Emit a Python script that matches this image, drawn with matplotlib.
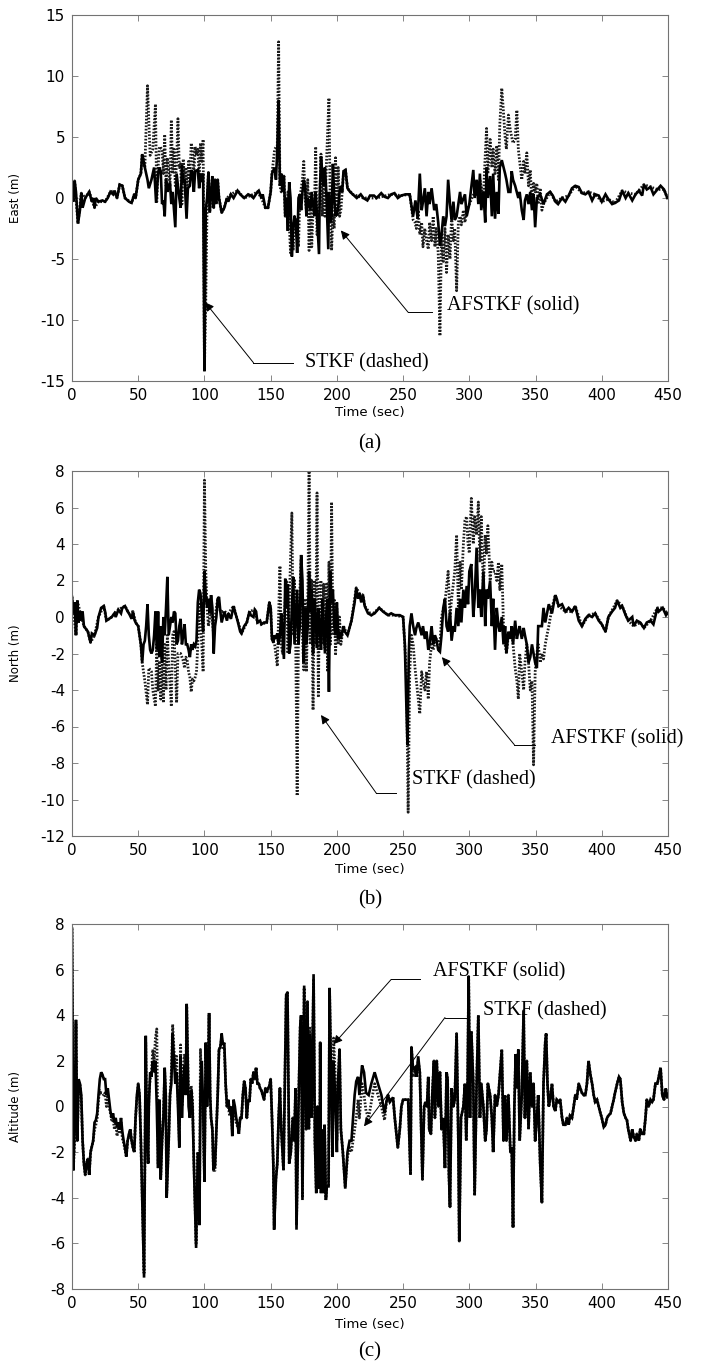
import numpy as np
import matplotlib
matplotlib.use("Agg")
import matplotlib.pyplot as plt

plt.rcParams['axes.unicode_minus'] = False
plt.rcParams['font.family'] = ['DejaVu Sans']

## data: (time [s], error [m]) vertices
east_afstkf = [(0,0.3),(1,-0.3),(2,1.4),(3,0.5),(4.5,-2.1),(6,-1.0),(7,0.4),(8,-0.8),(10,0.0),(13,0.5),(15,-0.3),(16,0.0),(17,-0.8),(18,0.0),(20,-0.3),(23,-0.2),(25,-0.3),(27,0.0),(29,0.5),(31,0.3),(32,0.6),(34,0.0),(36,1.1),(38,1.0),(40,0.0),(43,-0.3),(45,-0.4),(47,0.3),(48,0.0),(50,1.5),(52,2.0),(53,3.6),(55,2.5),(57,1.5),(58,0.8),(60,1.5),(62,2.5),(63.5,-0.4),(65,2.0),(66,2.5),(67,2.2),(68,-0.5),(69,-0.2),(70,-1.5),(71,1.5),(72,0.5),(73,1.0),(74,1.2),(75,-0.5),(76,0.5),(78,-2.4),(79,2.0),(81,0.0),(82,-0.8),(83,2.7),(84,1.3),(85,1.5),(86.5,-1.7),(87.5,0.8),(89,1.0),(90,2.3),(91,2.0),(92,0.5),(93,2.2),(95,2.3),(96,0.8),(97,2.0),(98,1.3),(99,2.0),(100,-14.2),(101,-1.0),(102,0.0),(103,2.1),(104,-1.2),(106,1.8),(107,-0.8),(108,1.5),(109,-0.5),(110,1.5),(111,0.0),(113,-1.2),(115,-0.8),(117,0.0),(118,-0.3),(120,0.3),(122,0.0),(125,0.6),(127,0.3),(130,0.0),(133,0.3),(135,0.2),(137,0.0),(140,0.5),(141,0.6),(143,0.0),(144,0.3),(146,-0.8),(148,-0.8),(150,0.5),(151,2.0),(153,2.5),(154,1.5),(155,4.0),(156,8.0),(157,1.0),(158,2.0),(159,0.5),(160,1.8),(161,-1.5),(162,0.0),(163,-2.7),(164,1.3),(165,0.0),(166,-4.8),(167,-2.5),(168,-1.5),(169,-2.0),(170,-4.5),(171,0.0),(172,0.3),(173,-1.0),(174,0.5),(175,1.5),(176,1.0),(177,-1.5),(178,0.0),(179,-0.5),(180,-1.0),(181,0.5),(182,-0.5),(183,-1.5),(184,0.5),(186.5,-4.6),(187,0.0),(188,3.4),(189,2.0),(190,1.0),(191,2.5),(192,0.5),(193.5,-4.2),(194,0.5),(195,-2.0),(196,-1.5),(197,2.8),(198,0.0),(199,-1.5),(200,-1.3),(201,-0.8),(202,0.5),(203,1.0),(204,0.5),(205,2.2),(206.5,2.3),(208,0.8),(210,0.5),(212,0.3),(215,0.0),(218,0.3),(220,0.0),(223,-0.2),(225,0.2),(228,0.2),(230,0.0),(233.5,0.4),(236,0.1),(238.5,0.0),(241,0.3),(243.5,0.4),(246,0.0),(248.5,0.2),(252,0.3),(255,0.3),(257.5,-1.5),(259.3,-0.2),(261,-1.7),(262.6,2.0),(264,-1.0),(265,-0.3),(266.4,0.8),(267.7,-1.5),(269,0.5),(270,-0.5),(271.5,0.8),(273.5,-1.0),(275,-0.5),(276.5,-2.0),(277.8,-3.9),(279,-3.0),(280.3,-1.5),(281.6,-2.3),(282.8,-1.5),(284,1.5),(285.4,-0.5),(286.6,-1.8),(288,-0.3),(289,-1.8),(290.4,-1.5),(291.7,-0.5),(293,0.5),(294,-0.5),(296.7,0.3),(298,-1.5),(300,-0.5),(303,2.3),(304,0.0),(305.5,1.5),(306.8,-0.5),(308,2.0),(309,-1.0),(310.6,0.5),(312,-2.0),(313,2.5),(314,0.0),(315.7,1.8),(317,-1.5),(318,2.0),(319.4,-1.7),(320.7,0.5),(322,-1.3),(323,2.5),(324.5,3.1),(327,2.0),(328,1.5),(329.5,0.5),(331,0.5),(332,2.2),(333,1.5),(334.6,1.0),(337,0.0),(338,0.5),(339.6,-1.0),(341,-1.8),(342,-0.2),(343.4,0.3),(344.7,-0.5),(346,0.5),(347.3,-1.0),(348.5,0.3),(349.7,-2.4),(351,0.0),(353.5,0.3),(356,-0.5),(358.6,0.3),(361,0.5),(363,0.2),(365,-0.3),(367,-0.5),(370,0.0),(372.5,-0.3),(375,0.2),(377.5,0.8),(380,1.0),(382.6,0.9),(385,0.4),(387.6,0.3),(390,0.5),(392.7,-0.2),(395,0.3),(397.7,0.2),(400,-0.3),(402.8,0.3),(405,-0.1),(407.8,-0.5),(410,-0.4),(413,-0.2),(415.4,0.6),(418,0.0),(420,0.4),(423,-0.2),(425.5,0.3),(428,0.6),(430.5,0.2),(431.8,1.1),(434,0.7),(436.8,0.9),(439,0.3),(442,0.7),(444.4,1.0),(447,0.7),(449.5,0.0)]

east_stkf = [(0,0.3),(2,1.4),(4.5,-2.1),(7,0.4),(10,0.0),(13,0.5),(17,-0.8),(20,-0.3),(25,-0.3),(29,0.5),(32,0.6),(34,0.0),(36,1.1),(38,1.0),(40,0.0),(45,-0.4),(47,0.3),(48,0.0),(50,1.5),(52,2.0),(53,3.6),(55,2.5),(57,9.2),(59,3.5),(61,4.0),(63,7.7),(64,-0.3),(65,2.5),(66,4.2),(68,4.0),(69,2.0),(70,5.2),(71,1.0),(72,3.3),(74,1.0),(75,6.4),(76,2.0),(77,4.0),(78,1.0),(79,3.0),(80,6.5),(81,2.5),(82,2.8),(83,-0.5),(84,3.2),(85,1.5),(86,2.5),(87,0.5),(88,3.0),(89,1.5),(90,4.5),(91,4.0),(92,2.0),(93,4.2),(94,3.5),(95,4.0),(96,1.5),(97,4.5),(98,3.0),(99,4.8),(100,-14.0),(101,-8.5),(102,-0.5),(103,2.1),(104,-1.2),(106,1.8),(107,-0.8),(108,1.5),(109,-0.5),(110,1.5),(111,0.0),(113,-1.2),(115,-0.8),(117,0.0),(120,0.3),(125,0.6),(130,0.0),(135,0.2),(140,0.5),(143,0.0),(146,-0.8),(148,-0.8),(150,0.5),(151,2.0),(153,4.0),(155,4.3),(156,12.8),(157,1.0),(158,0.5),(160,1.8),(161,-1.5),(162,-1.5),(163,0.5),(165,-4.5),(166,-2.0),(167,-4.3),(168,-1.5),(170,-2.0),(171,-4.0),(172,0.0),(174,1.5),(175,3.0),(176,0.0),(177,-1.0),(178,1.5),(179,-4.3),(180,0.5),(181,-4.0),(182,-1.0),(183,-1.0),(184,4.2),(185,-3.0),(186,-1.0),(187,-0.5),(188,3.6),(189,-1.5),(190,2.5),(191,-1.5),(192,2.5),(194,8.2),(195,-1.0),(196,-4.3),(197,-1.3),(198,-2.5),(199,3.3),(200,-1.5),(201,2.5),(202,-1.5),(203,-1.0),(205,2.0),(206.5,2.3),(208,0.8),(212,0.3),(220,0.0),(230,0.0),(241,0.3),(248.5,0.2),(255,0.3),(257.6,-1.8),(259,-2.0),(260,-2.5),(261.4,-1.0),(262.6,-3.0),(264,-2.0),(265,-4.0),(266.4,-2.5),(267.7,-3.5),(269,-4.2),(270,-2.0),(271.5,-3.5),(272.7,-1.5),(274,-4.0),(275,-2.5),(276.5,-4.5),(277.8,-11.3),(279,-3.0),(280.3,-5.2),(281.6,-2.5),(282.8,-6.1),(284,-3.0),(285.4,-5.0),(286.6,-1.5),(288,-3.5),(289,-2.5),(290.4,-7.6),(291.7,-2.0),(293,-1.5),(294,-2.2),(295.5,-1.0),(296.7,-2.0),(298,-1.0),(300,-0.5),(304,0.5),(306.8,0.0),(308,1.5),(310.6,0.0),(312,3.5),(313,5.7),(314,2.0),(315.7,4.8),(317,2.5),(318,4.0),(319.4,2.0),(320.7,4.3),(322,1.5),(323,6.0),(324.5,9.0),(325.8,7.0),(327,5.0),(328,4.0),(329.5,6.8),(331,5.5),(332,5.0),(333,4.5),(334.6,4.8),(335.9,7.2),(337,4.0),(338,3.0),(339.6,1.5),(341,3.0),(342,2.0),(343.4,3.7),(344.7,1.0),(346,2.3),(347.3,-0.5),(348.5,1.2),(349.7,0.5),(351,1.2),(352,-0.5),(353.5,0.8),(354.8,-1.0),(356,-0.5),(361,0.5),(365,-0.3),(370,0.0),(375,0.2),(380,1.0),(385,0.4),(390,0.5),(395,0.3),(400,-0.3),(405,-0.1),(410,-0.4),(415.4,0.6),(420,0.4),(425.5,0.3),(431.8,1.1),(436.8,0.9),(442,0.7),(447,0.7),(449.5,0.0)]

north_afstkf = [(0,1.1),(1,0.2),(2,0.8),(3,-1.0),(4,0.9),(5,-0.3),(6,0.3),(7,-0.2),(8,0.3),(9,-0.5),(10,-0.6),(12,-0.8),(14,-1.4),(15,-0.9),(17,-1.0),(19,-0.6),(20,0.0),(22,0.5),(24,0.6),(25,0.3),(26,-0.2),(28,-0.1),(30,0.0),(32,0.2),(33,0.0),(35,0.4),(37,0.2),(38,0.5),(40,0.6),(42,0.3),(43,0.2),(45,-0.1),(46,0.3),(47,-0.1),(48,-0.3),(50,-0.5),(52,-1.5),(53,-2.5),(54,-1.5),(55,-1.3),(56,-0.5),(57,0.7),(58,-1.0),(59,-1.8),(60,-2.0),(61,-1.8),(62,-1.0),(63,0.3),(64,-1.8),(65,0.3),(66,-2.2),(67,-0.5),(68,-2.5),(69,0.0),(70,-1.0),(71,0.5),(72,2.2),(73,-1.0),(74,-0.5),(75,0.0),(76,-0.3),(77,0.3),(78,0.2),(79,-1.5),(80,-1.3),(81,-0.5),(82,-0.1),(83,-1.5),(84,-1.0),(85,-0.4),(86,-1.5),(87,-1.5),(88,-1.8),(89,-2.2),(90,-1.5),(91,-1.8),(92,-1.5),(93,-1.6),(94,-1.3),(95,0.8),(96,1.5),(97,1.3),(98,0.2),(99,-0.8),(100,2.5),(101,1.2),(102,0.5),(103,1.0),(104,0.2),(105,1.2),(106,0.5),(107,-2.0),(108,-0.5),(109,0.0),(110,1.0),(111,1.1),(112,0.3),(113,-0.3),(115,0.3),(117,-0.2),(118,0.2),(120,-0.1),(122,0.6),(123,0.3),(125,-0.2),(127,-0.8),(128,-0.9),(130,-0.5),(132,-0.3),(134,0.3),(135,0.1),(137,0.0),(138,0.4),(139,0.3),(140,-0.3),(142,-0.2),(143,-0.4),(145,-0.3),(147,-0.3),(149,0.8),(150,0.5),(151,-1.2),(152,-1.4),(153,-1.0),(154,-1.2),(155,-0.9),(156,-1.5),(157,-1.0),(158,0.2),(159,-1.0),(160,-2.3),(161,2.1),(162,0.5),(163,1.8),(164,-2.0),(165,-1.5),(166,0.5),(167,2.2),(168,-1.5),(169,0.0),(170,1.5),(171,-1.5),(172,-0.5),(173,3.4),(174,2.0),(175,-2.5),(176,0.5),(177,-1.5),(178,-0.5),(179,2.5),(180,0.3),(181,1.5),(182,-2.0),(183,1.0),(184,0.0),(185,-1.7),(186,0.5),(187,-0.5),(188,-1.8),(189,1.0),(190,-0.5),(191,-2.0),(192,0.2),(193,1.0),(194,-4.1),(195,2.5),(196,0.8),(197,1.5),(198,-0.5),(199,-1.0),(200,0.8),(201,-1.2),(202,-0.8),(203,-1.2),(205,-0.5),(206,-0.8),(208,-1.0),(211,-0.2),(213.4,0.8),(214.6,1.6),(216,1.0),(217,1.3),(218.4,0.8),(219.7,1.2),(221,0.6),(223.5,0.2),(226,0.1),(228.5,0.2),(232,0.5),(234.8,0.3),(238.6,0.1),(241,0.2),(243.7,0.1),(247.5,0.1),(250,0.0),(251.3,-1.5),(252.5,-5.0),(253.3,-7.0),(254.3,-2.0),(255,-0.5),(256.3,0.2),(257.6,-0.5),(259,-1.0),(260,-0.6),(261.4,-0.3),(262.6,-0.6),(264,-1.0),(265,-0.5),(266.4,-1.2),(267.7,-0.8),(269,-1.8),(270,-1.5),(271.5,-0.5),(272.7,-1.5),(274,-1.0),(275,-1.2),(276.5,-1.8),(277.8,-1.9),(279,-1.0),(280.3,0.5),(281.6,1.0),(282.8,-0.5),(284,-0.8),(285.4,0.3),(286.6,-1.3),(288,-0.5),(289,-0.8),(290.4,0.5),(291.7,-0.5),(293,1.0),(294,-0.3),(295.5,1.5),(296.7,0.5),(298,1.7),(299,0.7),(300,2.5),(301.5,2.9),(303,0.0),(304,1.0),(305.5,3.8),(306.8,0.5),(308,1.5),(309,0.0),(310.6,2.5),(312,-0.5),(313,1.5),(314,1.0),(315.7,2.0),(317,-0.5),(318,1.0),(319.4,-1.8),(320.7,0.5),(322,-0.5),(323,-0.8),(324.5,0.0),(325.8,-1.5),(327,-0.5),(328,-2.0),(329.5,-0.8),(331,-1.2),(332,-0.5),(333,-1.5),(334.6,-0.2),(335.9,-1.2),(337,-0.8),(338,-0.5),(339.6,-1.2),(341,-0.6),(342,-1.0),(343.4,-1.5),(344.7,-2.5),(346,-2.2),(347.3,-1.5),(348.5,-2.0),(349.7,-2.5),(351,-2.8),(352,-0.5),(354.8,-0.5),(356,0.5),(357.3,-0.3),(360,0.7),(362.4,0.2),(364.9,1.2),(366,1.0),(367.4,0.6),(370,0.7),(372.5,0.3),(375,0.5),(377.5,0.3),(380,0.6),(382.6,-0.2),(385,-0.5),(387.6,-0.1),(390,0.1),(392.7,0.0),(395,0.2),(397.7,-0.2),(400,-0.4),(402.8,-0.8),(405,0.0),(407.8,0.3),(410,0.5),(411.6,0.9),(414,0.5),(415.4,0.6),(418,0.1),(420,-0.2),(423,0.0),(424,-0.5),(426.5,-0.2),(429,-0.3),(431.8,-0.6),(434,-0.3),(436.8,-0.2),(439,-0.4),(442,0.5),(443,0.3),(446,0.5),(448.5,0.1),(449.5,0.2)]

north_stkf = [(0,1.1),(3,-1.0),(4,0.9),(6,0.3),(9,-0.5),(12,-0.8),(14,-1.4),(17,-1.0),(20,0.0),(24,0.6),(26,-0.2),(30,0.0),(35,0.4),(40,0.6),(43,0.2),(46,0.3),(48,-0.3),(50,-0.5),(52,-1.5),(53,-2.5),(55,-3.5),(57,-4.8),(58,-2.8),(59,-2.9),(60,-3.0),(61,-4.0),(63,-4.9),(64,-1.5),(65,-4.0),(66,-2.5),(67,-4.5),(68,-2.0),(69,-4.7),(70,-1.5),(71,-4.0),(72,-1.0),(73,-2.5),(75,-4.9),(76,-1.0),(77,-0.8),(79,-4.7),(80,-2.0),(82,-2.0),(83,-2.2),(84,-2.4),(85,-2.8),(86,-2.2),(87,-2.4),(88,-3.0),(89,-3.3),(90,-4.1),(91,-3.4),(92,-3.5),(93,-3.3),(94,-3.0),(95,-1.5),(96,0.8),(97,-0.5),(98,-1.5),(99,-3.0),(100,7.5),(101,2.5),(102,0.5),(103,-0.5),(105,0.5),(107,-1.0),(108,0.0),(110,1.0),(112,0.3),(115,0.3),(118,0.2),(122,0.6),(125,-0.2),(128,-0.9),(132,-0.3),(134,0.3),(138,0.4),(140,-0.3),(143,-0.4),(147,-0.3),(149,0.8),(150,0.5),(151,-1.2),(153,-1.5),(155,-2.7),(156,0.0),(157,2.8),(158,-1.5),(159,-2.0),(160,-0.5),(161,1.0),(162,2.0),(163,-2.0),(164,0.5),(166,5.7),(167,-1.0),(168,2.0),(169,-2.0),(170,-9.8),(171,-0.5),(173,3.2),(174,-1.0),(175,-2.9),(176,1.0),(177,-3.0),(178,0.5),(179,8.0),(180,-1.5),(181,2.0),(182,-5.1),(183,2.0),(184,-1.5),(185,6.8),(186,-4.4),(187,1.5),(188,2.0),(189,-1.5),(190,1.8),(191,-1.7),(192,1.8),(193,-3.0),(194,3.0),(195,-1.5),(196,6.3),(197,-1.0),(198,1.0),(199,-2.1),(200,0.5),(201,-1.5),(202,0.0),(203,-1.5),(205,-0.5),(208,-1.0),(211,-0.2),(214.6,1.6),(217,1.3),(219.7,1.2),(221,0.6),(226,0.1),(232,0.5),(238.6,0.1),(243.7,0.1),(250,0.0),(252.5,-3.0),(253.8,-10.7),(255,-3.0),(256.3,-1.0),(257.6,-1.5),(259,-2.8),(260,-3.5),(261.4,-4.5),(262.6,-5.3),(264,-3.0),(265,-3.5),(266.4,-4.0),(267.7,-3.0),(269,-4.5),(270,-2.5),(271.5,-1.5),(272.7,-1.8),(275,-1.2),(277.8,-1.5),(279,0.0),(281.6,0.8),(284,2.5),(285.4,0.0),(286.6,1.0),(289,2.5),(290.4,4.5),(291.7,0.5),(293,3.0),(294,1.5),(295.5,4.0),(296.7,5.3),(298,5.5),(299,4.0),(300,3.5),(301.5,6.5),(303,4.0),(304,5.5),(305.5,4.5),(306.8,6.3),(308,3.0),(309,5.5),(310.6,1.5),(312,4.5),(313,3.5),(314,5.0),(315.7,2.0),(317,3.0),(318,2.5),(319.4,2.5),(320.7,2.0),(322,3.0),(323,1.5),(324.5,2.9),(325.8,-0.5),(327,-1.5),(328,-2.0),(329.5,-1.0),(332,-0.8),(333,-1.5),(334.6,-2.8),(335.9,-3.5),(337,-4.5),(338,-2.0),(339.6,-3.0),(341,-4.0),(342,-2.5),(343.4,-1.5),(344.7,-2.5),(346,-4.0),(347.3,-3.5),(348.5,-8.1),(349.7,-3.0),(351,-2.0),(352,-1.5),(353.5,-2.5),(354.8,-2.0),(356,-2.3),(357.3,-1.5),(358.6,-1.0),(360,-0.5),(362.4,0.5),(364.9,1.2),(367.4,0.6),(372.5,0.3),(377.5,0.3),(380,0.6),(385,-0.5),(390,0.1),(395,0.2),(400,-0.4),(402.8,-0.8),(405,0.0),(411.6,0.9),(415.4,0.6),(420,-0.2),(424,-0.5),(429,-0.3),(431.8,-0.6),(436.8,-0.2),(442,0.5),(446,0.5),(449.5,0.2)]

alt_afstkf = [(0,7.8),(1,-2.8),(2,-1.0),(3,3.8),(4,-1.5),(5,1.2),(6,1.0),(7,0.5),(8,-1.5),(9,-2.5),(10,-3.0),(11,-2.5),(12,-2.3),(13,-3.0),(14,-2.0),(16,-1.5),(17,-0.7),(18,-0.6),(19,-0.3),(20,0.5),(21,1.2),(22,1.5),(23,1.4),(24,1.2),(25,1.2),(26,0.5),(27,0.8),(28,0.3),(29,-0.2),(30,-0.5),(31,-0.3),(32,-0.7),(33,-0.5),(34,-0.9),(35,-0.7),(36,-1.0),(37,-0.5),(38,-1.1),(39,-1.5),(40,-1.8),(41,-2.2),(42,-1.5),(43,-1.2),(44,-1.0),(45,-1.5),(46,-1.8),(47,-2.0),(48,-0.5),(49,0.5),(50,1.0),(51,0.5),(52,-1.5),(54.4,-7.5),(55.7,3.1),(56.5,-1.0),(57.5,-2.5),(58,0.0),(59,1.5),(60,1.3),(61,2.0),(62,1.5),(63,2.0),(64,0.0),(65,-2.7),(66,0.3),(67,-3.2),(68,-1.5),(69,-0.5),(70,1.7),(70.8,0.5),(71.5,-4.0),(73,-1.5),(74,0.5),(75,1.0),(76,3.2),(77,2.0),(78,1.0),(79,1.5),(80,0.0),(81,-1.8),(82,2.2),(83,-0.5),(84,1.0),(85,1.8),(86,0.5),(86.6,4.5),(88,0.0),(89,-0.5),(90,0.7),(91,0.0),(92,-2.5),(93.7,-6.2),(95,-2.0),(96.2,-5.2),(97,1.0),(98,2.0),(99,0.0),(100,-3.3),(101,2.8),(102,0.0),(103,2.0),(103.5,4.1),(104.3,0.5),(105,-0.5),(106,-1.0),(106.8,-2.8),(108,-2.6),(109,-1.0),(110,0.5),(111,2.5),(112,2.6),(113,3.2),(114,2.7),(115,2.8),(116,1.0),(117,0.0),(118,0.3),(119,-0.2),(120,0.0),(121,-1.3),(122,0.3),(123,0.0),(124,-0.5),(125,-0.8),(126,-1.2),(127,-0.5),(128,-0.5),(129,0.5),(130,1.1),(131,0.8),(132,-0.5),(133,0.3),(134,0.2),(135,1.2),(136,1.0),(137,1.5),(138,1.2),(139,1.7),(140,1.0),(141,1.0),(142,0.8),(143,0.7),(144,0.5),(145,0.3),(146,0.8),(147,0.6),(148,0.8),(149,0.9),(150,1.2),(151,-0.5),(152,-2.5),(152.6,-5.4),(154,-3.2),(155,-2.5),(156,-0.5),(157,0.8),(158,-1.0),(159.7,-2.8),(161.7,4.9),(162.7,5.0),(164,-2.5),(165.2,-2.0),(166.7,-0.5),(167.8,-1.5),(168.8,0.8),(169.5,-5.4),(171,0.0),(172.3,3.5),(173,4.0),(174,-4.1),(175.3,5.3),(176.8,-1.0),(177.8,4.6),(178.8,-1.0),(179.6,3.2),(180.9,-0.5),(182.4,5.8),(183.4,-1.5),(184.4,-3.8),(185.4,0.0),(186,-3.6),(187,-2.5),(187.4,2.8),(188,-3.8),(189,-1.0),(190,-3.8),(190.7,-0.8),(191.7,-4.1),(192.4,-3.5),(193.7,-3.5),(194.5,5.2),(195.7,1.0),(196.7,-2.2),(197.5,2.0),(198.7,0.5),(200,-2.0),(200.8,1.0),(202,2.5),(203,-1.0),(204.5,-2.0),(206.3,-3.6),(208,-2.0),(209.6,-1.5),(211,-1.5),(213.4,0.5),(214.6,1.1),(216,1.3),(217,0.5),(219,1.8),(220.5,1.5),(222,0.6),(224,0.5),(226,1.0),(228.5,1.5),(231,1.0),(233.6,0.5),(236,-0.3),(237.4,0.2),(238.6,0.5),(240,0.2),(242.4,0.4),(243.7,-0.5),(246,-1.8),(247.5,-1.0),(248.7,0.0),(250,0.3),(253.8,0.3),(255.6,-3.0),(256.3,2.6),(257.6,1.6),(259,1.7),(260,1.3),(261.4,2.2),(262.6,1.5),(264.6,-3.2),(265.9,0.0),(266.9,0.2),(268,0.0),(269,1.3),(269.7,-1.0),(271,-1.2),(272,0.5),(273.3,2.0),(274,-0.5),(275.4,2.0),(276.7,0.0),(277.8,1.5),(279,-1.0),(280.3,-0.5),(281.6,-2.7),(282.8,1.5),(283.6,1.2),(284.6,-3.0),(285.4,-4.4),(286.6,0.8),(287.9,0.0),(289,0.3),(290.4,3.2),(291.7,-1.5),(292.4,-5.9),(293.7,-0.5),(295.5,0.0),(296.7,1.0),(297.7,-1.5),(298.7,1.0),(299.5,5.7),(300.5,-0.5),(301.5,3.3),(303,1.0),(304,-3.9),(305.5,1.0),(306.8,4.0),(308,-0.5),(309,1.0),(310.6,0.0),(312,-1.5),(313,-1.0),(314,1.0),(315.7,0.5),(317,-0.5),(318,-2.0),(319.4,0.5),(320.7,0.0),(322,0.5),(323,1.3),(324.5,2.5),(325.8,-1.5),(327,0.5),(328,-1.5),(329.5,0.5),(331,-2.0),(332,-1.8),(333,-5.3),(334,0.0),(335,2.3),(335.9,0.8),(337,2.5),(338,-1.5),(339.6,0.5),(341,4.2),(342,-0.5),(343.4,2.0),(344.7,-1.0),(346,1.5),(347.3,0.0),(348.5,1.0),(349.7,-1.5),(351,-0.5),(352,0.5),(353.5,-2.5),(354.8,-4.2),(356,1.0),(357.3,2.8),(358,3.2),(359,1.0),(360,0.0),(361,0.3),(362.4,1.0),(363.6,0.0),(364.9,-0.2),(366,0.3),(367.4,0.2),(368.6,0.3),(370,-0.5),(371,-0.8),(372.5,-0.8),(373.7,-0.5),(375,-0.8),(376,-0.4),(377.5,-0.5),(378.8,0.0),(380,0.5),(381,0.3),(382.6,1.0),(383.8,0.8),(385,0.6),(386.4,0.5),(387.6,0.5),(388.8,1.0),(390,2.0),(391.4,1.4),(392.7,1.0),(393.9,0.5),(395,0.2),(396.4,0.3),(397.7,0.0),(399,-0.3),(400,-0.5),(401.5,-0.9),(402.8,-0.8),(404,-0.5),(405,-0.4),(406.6,-0.3),(407.8,0.0),(409,0.3),(410,0.6),(411.6,1.0),(413,1.3),(414,1.2),(415.4,0.2),(416.7,-0.3),(418,-0.5),(419,-0.6),(420,-1.0),(421.8,-1.5),(423,-1.0),(424,-1.3),(425.5,-1.5),(426.5,-1.2),(428,-1.5),(429,-1.0),(430.5,-1.2),(431.8,-1.2),(433,-0.5),(434,0.3),(435.4,0.0),(436.8,0.3),(438,0.2),(439,0.3),(440.5,1.0),(442,1.0),(443,1.3),(444.4,1.7),(445.7,0.5),(447,0.3),(448.3,0.8),(449.5,0.4)]

alt_stkf = [(0,7.8),(1,-2.8),(2,-1.5),(3,3.6),(4,-1.5),(5,1.0),(6,1.0),(7,0.3),(8,-1.5),(9,-2.5),(10,-3.0),(11,-2.5),(12,-2.3),(13,-3.0),(14,-2.0),(16,-1.5),(17,-1.0),(18,-0.8),(19,-0.5),(20,0.3),(21,0.7),(22,0.6),(23,0.6),(24,0.5),(25,0.6),(26,0.0),(27,0.5),(28,0.0),(29,-0.3),(30,-0.6),(31,-0.5),(32,-1.0),(33,-0.7),(34,-1.3),(35,-0.9),(36,-1.2),(37,-0.7),(38,-1.4),(39,-1.6),(40,-1.9),(41,-2.2),(42,-1.5),(43,-1.3),(44,-1.0),(45,-1.5),(46,-1.8),(47,-2.0),(48,-0.5),(49,0.3),(50,1.0),(51,0.5),(52,-1.5),(54.4,-7.3),(55.7,2.8),(56.5,-1.0),(57.5,-2.5),(58,0.5),(59,1.2),(60,1.5),(61,2.5),(62,2.0),(63,3.0),(64,3.4),(65,-2.5),(66,0.3),(67,-3.0),(68,-1.5),(69,-0.5),(70,1.5),(70.8,0.5),(71.5,-3.8),(73,-1.5),(74,0.5),(75,1.5),(76,3.6),(77,2.5),(78,1.5),(79,2.2),(80,0.5),(81,-1.5),(82,2.7),(83,0.0),(84,1.5),(85,2.3),(86,1.0),(86.6,4.4),(88,0.5),(89,0.0),(90,0.9),(91,0.3),(92,-2.3),(93.7,-6.0),(95,-2.0),(96.2,-5.0),(97,2.5),(98,0.5),(99,-1.0),(100,-3.0),(101,2.5),(102,0.5),(103.5,4.0),(104.3,0.5),(105,-0.5),(106,-1.0),(106.8,-2.8),(108,-2.8),(109,-1.0),(110,0.5),(111,2.5),(112,2.6),(113,3.0),(114,2.5),(115,2.6),(116,1.0),(117,0.0),(118,0.0),(119,-0.4),(120,-0.2),(121,-1.0),(122,0.0),(123,-0.3),(124,-0.7),(125,-0.9),(126,-1.0),(127,-0.5),(128,-0.5),(129,0.5),(130,1.1),(131,0.8),(132,-0.5),(133,0.3),(134,0.2),(135,1.2),(136,1.0),(137,1.5),(138,1.2),(139,1.7),(140,1.0),(141,1.0),(142,0.8),(143,0.7),(144,0.5),(145,0.3),(146,0.8),(147,0.6),(148,0.8),(149,0.9),(150,1.2),(151,-0.5),(152,-2.5),(152.6,-5.2),(154,-3.0),(155,-2.5),(156,-0.5),(157,0.8),(158,-1.0),(159.7,-2.8),(161.7,4.8),(162.7,5.0),(164,-2.5),(165.2,-2.0),(166.7,-0.5),(167.8,-1.5),(168.8,0.8),(169.5,-5.2),(171,0.0),(172.3,3.5),(173,4.0),(174,-4.0),(175.3,5.2),(176.8,-1.0),(177.8,4.6),(178.8,-1.0),(179.6,3.5),(180.9,-0.5),(182.4,5.6),(183.4,-1.5),(184.4,-3.6),(185.4,0.0),(186,-3.5),(187,-2.5),(187.4,2.8),(188,-3.6),(189,-1.0),(190,-3.6),(190.7,-0.8),(191.7,-4.0),(192.4,-3.5),(193.7,-3.5),(194.5,5.0),(195.7,1.0),(196.7,-2.0),(197.5,3.0),(198.7,1.5),(200,-1.5),(200.8,1.0),(202,2.5),(203,-1.0),(204.5,-2.0),(206.3,-3.5),(208,-2.2),(209.6,-1.8),(211,-2.0),(213.4,-1.0),(214.6,-0.5),(216,0.3),(217,-0.5),(219,1.0),(220.5,0.5),(222,-0.2),(224,-0.5),(226,0.2),(228.5,1.0),(231,0.5),(233.6,0.0),(236,-0.6),(237.4,0.2),(238.6,0.5),(240,0.2),(242.4,0.4),(243.7,-0.5),(246,-1.8),(247.5,-1.0),(248.7,0.0),(250,0.3),(253.8,0.3),(255.6,-3.0),(256.3,2.6),(257.6,1.3),(259,1.5),(260,1.3),(261.4,2.0),(262.6,1.5),(264.6,-3.2),(265.9,0.0),(266.9,0.2),(268,0.0),(269,1.3),(269.7,-1.0),(271,-1.2),(272,0.5),(273.3,2.0),(274,-0.5),(275.4,2.0),(276.7,0.0),(277.8,1.5),(279,-1.0),(280.3,-0.5),(281.6,-2.7),(282.8,1.5),(283.6,1.2),(284.6,-3.0),(285.4,-4.4),(286.6,0.8),(287.9,0.0),(289,0.3),(290.4,3.2),(291.7,-1.5),(292.4,-5.9),(293.7,-0.5),(295.5,0.0),(296.7,1.0),(297.7,-1.5),(298.7,1.0),(299.5,5.7),(300.5,-0.5),(301.5,3.3),(303,1.0),(304,-3.9),(305.5,1.0),(306.8,4.0),(308,-0.5),(309,1.0),(310.6,0.0),(312,-1.5),(313,-1.0),(314,1.0),(315.7,0.5),(317,-0.5),(318,-2.0),(319.4,0.5),(320.7,0.0),(322,0.5),(323,1.3),(324.5,2.5),(325.8,-1.5),(327,0.5),(328,-1.5),(329.5,0.5),(331,-2.0),(332,-1.8),(333,-5.3),(334,0.0),(335,2.3),(335.9,0.8),(337,2.5),(338,-1.5),(339.6,0.5),(341,4.2),(342,-0.5),(343.4,2.0),(344.7,-1.0),(346,1.5),(347.3,0.0),(348.5,1.0),(349.7,-1.5),(351,-0.5),(352,0.5),(353.5,-2.5),(354.8,-4.2),(356,1.0),(357.3,2.8),(358,3.2),(359,1.0),(360,0.0),(361,0.3),(362.4,1.0),(363.6,0.0),(364.9,-0.2),(366,0.3),(367.4,0.2),(368.6,0.3),(370,-0.5),(371,-0.8),(372.5,-0.8),(373.7,-0.5),(375,-0.8),(376,-0.4),(377.5,-0.5),(378.8,0.0),(380,0.5),(381,0.3),(382.6,1.0),(383.8,0.8),(385,0.6),(386.4,0.5),(387.6,0.5),(388.8,1.0),(390,2.0),(391.4,1.4),(392.7,1.0),(393.9,0.5),(395,0.2),(396.4,0.3),(397.7,0.0),(399,-0.3),(400,-0.5),(401.5,-0.9),(402.8,-0.8),(404,-0.5),(405,-0.4),(406.6,-0.3),(407.8,0.0),(409,0.3),(410,0.6),(411.6,1.0),(413,1.3),(414,1.2),(415.4,0.2),(416.7,-0.3),(418,-0.5),(419,-0.6),(420,-1.0),(421.8,-1.5),(423,-1.0),(424,-1.3),(425.5,-1.5),(426.5,-1.2),(428,-1.5),(429,-1.0),(430.5,-1.2),(431.8,-1.2),(433,-0.5),(434,0.3),(435.4,0.0),(436.8,0.3),(438,0.2),(439,0.3),(440.5,1.0),(442,1.0),(443,1.3),(444.4,1.7),(445.7,0.5),(447,0.3),(448.3,0.8),(449.5,0.4)]

x_ticks = [0, 50, 100, 150, 200, 250, 300, 350, 400, 450]
east_ticks = [-15, -10, -5, 0, 5, 10, 15]
north_ticks = [-12, -10, -8, -6, -4, -2, 0, 2, 4, 6, 8]
alt_ticks = [-8, -6, -4, -2, 0, 2, 4, 6, 8]

W, H = 702, 1369
SERIF = ['Liberation Serif', 'DejaVu Serif']


def setup(ax, yticks, ylabel, xlab_y):
    ax.set_xlim(0, 450)
    ax.set_ylim(yticks[0], yticks[-1])
    ax.set_xticks(x_ticks)
    ax.set_yticks(yticks)
    ax.tick_params(direction='in', top=True, right=True, length=4, width=0.6,
                   color='0.45', labelsize=11, labelcolor='k', pad=5)
    for s in ax.spines.values():
        s.set_color('0.45')
        s.set_linewidth(0.8)
    ax.set_xlabel('Time (sec)', fontsize=9.5)
    ax.xaxis.set_label_coords(0.5, xlab_y)
    ax.set_ylabel(ylabel, fontsize=8.5)
    ax.yaxis.set_label_coords(-0.084, 0.5)


def draw(ax, dashed, solid):
    td, vd = np.array(dashed).T
    ts, vs = np.array(solid).T
    ax.plot(td, vd, color='0.1', lw=2.0, ls=(0, (0.6, 0.6)), solid_capstyle='butt')
    ax.plot(ts, vs, color='k', lw=1.9, solid_joinstyle='miter')


def callout(ax, text, tip, corner, end, txt):
    ax.plot([corner[0], end[0]], [corner[1], end[1]], color='k', lw=0.7)
    ax.annotate('', xy=tip, xytext=corner,
                arrowprops=dict(arrowstyle='-|>', color='k', lw=0.7,
                                mutation_scale=13, shrinkA=0, shrinkB=0))
    ax.text(txt[0], txt[1], text, family=SERIF, fontsize=14.5,
            ha='left', va='center')


fig = plt.figure(figsize=(W / 100, H / 100), dpi=100)
ax_a = fig.add_axes([72 / W, 1 - 381 / H, 596 / W, 366 / H])
ax_b = fig.add_axes([72 / W, 1 - 836 / H, 596 / W, 365 / H])
ax_c = fig.add_axes([72 / W, 1 - 1289 / H, 596 / W, 365 / H])

setup(ax_a, east_ticks, 'East (m)', -0.068)
setup(ax_b, north_ticks, 'North (m)', -0.074)
setup(ax_c, alt_ticks, 'Altitude (m)', -0.08)

draw(ax_a, east_stkf, east_afstkf)
draw(ax_b, north_stkf, north_afstkf)
draw(ax_c, alt_stkf, alt_afstkf)

callout(ax_a, 'STKF (dashed)', (100.5, -8.55), (137, -13.5), (167, -13.5), (176, -13.5))
callout(ax_a, 'AFSTKF (solid)', (203, -2.66), (253.8, -9.37), (271.5, -9.37), (282.8, -8.85))
callout(ax_b, 'STKF (dashed)', (188, -5.37), (229.8, -9.66), (245, -9.66), (256.8, -8.9))
callout(ax_b, 'AFSTKF (solid)', (279.3, -2.2), (334, -7.0), (349.7, -7.0), (361.9, -6.65))
callout(ax_c, 'AFSTKF (solid)', (197.5, 2.73), (241, 5.57), (262.6, 5.57), (272.7, 5.9))
callout(ax_c, 'STKF (dashed)', (220.5, -0.87), (281.6, 3.9), (298.7, 3.9), (310.6, 4.2))

for lab, yc in [('(a)', 444), ('(b)', 900), ('(c)', 1352)]:
    fig.text(370 / W, 1 - yc / H, lab, family=SERIF, fontsize=15,
             ha='center', va='center')

fig.savefig('out.png', dpi=100)
